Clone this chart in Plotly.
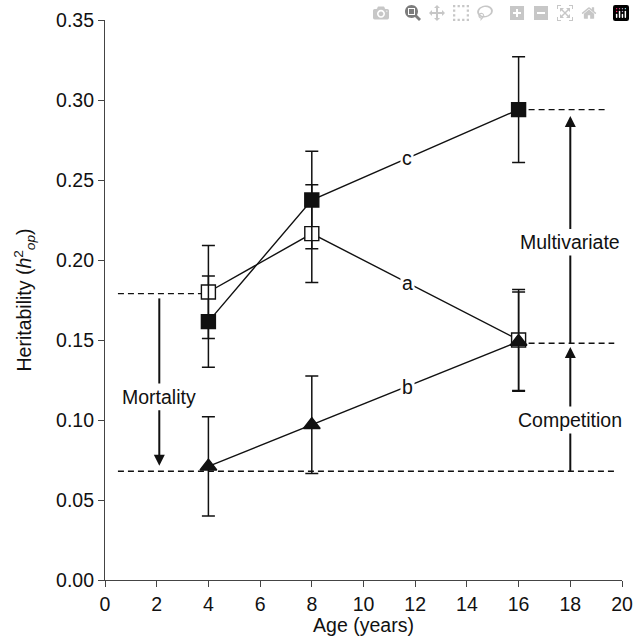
import plotly.graph_objects as go

ages = [4, 8, 16]
h2_a = [0.180, 0.2165, 0.150]
err_a = [0.029, 0.0305, 0.0315]
h2_b = [0.071, 0.097, 0.149]
err_b = [0.031, 0.0305, 0.031]
h2_c = [0.1615, 0.2375, 0.294]
err_c = [0.0285, 0.0305, 0.033]

x_ticks = list(range(0, 21, 2))
y_ticks = [0.0, 0.05, 0.10, 0.15, 0.20, 0.25, 0.30, 0.35]

# reference dashed lines: (x0, x1, y)
dashed_lines = [(0.5, 4.0, 0.179), (0.5, 19.8, 0.068), (16.0, 19.35, 0.294), (16.0, 19.7, 0.148)]
# labelled arrows: (x, text y, far end of plain shaft, arrow tip)
arrow_labels = [
    (2.1, 0.1145, 0.176, 0.0714, "Mortality"),
    (18.0, 0.211, 0.148, 0.290, "Multivariate"),
    (18.0, 0.100, 0.068, 0.1456, "Competition"),
]
line_labels = [(11.7, 0.2636, "c"), (11.7, 0.1855, "a"), (11.7, 0.1205, "b")]

FONT = "Liberation Sans, Arial, Helvetica, sans-serif"
FS = 19.5
INK = "#111111"

fig = go.Figure()

def add_series(y, e, symbol, fill, size):
    fig.add_trace(go.Scatter(
        x=ages, y=y, mode="lines+markers",
        line=dict(color=INK, width=1.4),
        marker=dict(symbol=symbol, size=size, color=fill, line=dict(color=INK, width=1.4)),
        error_y=dict(type="data", array=e, visible=True, color=INK, thickness=1.5, width=6.5),
        showlegend=False, cliponaxis=False,
    ))

add_series(h2_a, err_a, "square", "white", 14)
add_series(h2_c, err_c, "square", INK, 14)
add_series(h2_b, err_b, "triangle-up", INK, 14.5)

shapes = []
for x0, x1, y in dashed_lines:
    shapes.append(dict(type="line", xref="x", yref="y", x0=x0, x1=x1, y0=y, y1=y,
                       line=dict(color=INK, width=1.4, dash="6px,4px"), layer="below"))
for x, ty, y_end, y_tip, t in arrow_labels:
    shapes.append(dict(type="line", xref="x", yref="y", x0=x, x1=x, y0=y_end, y1=ty,
                       line=dict(color=INK, width=2)))

annotations = []
for x, ty, y_end, y_tip, t in arrow_labels:
    annotations.append(dict(x=x, y=y_tip, ax=x, ay=ty, xref="x", yref="y", axref="x", ayref="y",
                            text=t, showarrow=True, arrowhead=2, arrowsize=1.1, arrowwidth=2,
                            arrowcolor=INK, standoff=0, bgcolor="white", borderpad=2,
                            font=dict(family=FONT, size=FS, color=INK)))
for x, y, t in line_labels:
    annotations.append(dict(x=x, y=y, xref="x", yref="y", text=t, showarrow=False,
                            bgcolor="white", borderpad=1,
                            font=dict(family=FONT, size=FS, color=INK)))

fig.update_layout(
    width=635, height=643,
    margin=dict(l=105, r=13, t=20, b=63),
    paper_bgcolor="white", plot_bgcolor="white",
    font=dict(family=FONT, size=FS, color=INK),
    shapes=shapes, annotations=annotations,
    xaxis=dict(range=[0, 20], tickvals=x_ticks, ticks="outside", ticklen=6, tickwidth=1.2,
               tickcolor="#444", showline=True, linecolor="#444", linewidth=1.2,
               showgrid=False, zeroline=False, automargin=False, ticklabeloverflow="allow",
               title=dict(text="Age (years)", standoff=2, font=dict(size=FS))),
    yaxis=dict(range=[0, 0.35], tickvals=y_ticks, tickformat=".2f", ticks="outside",
               ticklen=6, tickwidth=1.2, tickcolor="#444", showline=True, linecolor="#444",
               linewidth=1.2, showgrid=False, zeroline=False, automargin=False,
               title=dict(text="Heritability (<i>h</i><sup>2</sup><sub><i>op</i></sub>)",
                          standoff=19, font=dict(size=FS))),
)

# remove the default 8px page margin so the figure fills the window exactly
fig.write_html("out.html",
               post_script="document.body.style.margin='0';document.body.style.overflow='hidden';")
